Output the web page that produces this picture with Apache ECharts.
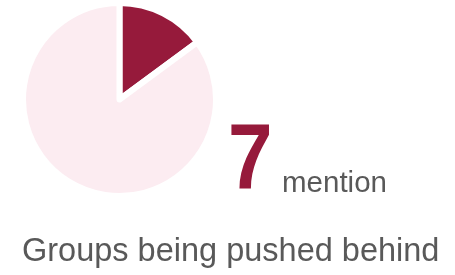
<!DOCTYPE html>
<html>
<head>
<meta charset="utf-8">
<style>html,body{margin:0;padding:0;background:#fff}#c{width:455px;height:275px}</style>
<script src="https://cdn.jsdelivr.net/npm/echarts@6/dist/echarts.min.js"></script>
</head>
<body>
<div id="c"></div>
<script>
const categories = ["Groups being pushed behind", "Other"];
const values = [7, 40];
const countLabel = "7";
const unitLabel = "mention";
const titleText = "Groups being pushed behind";

const chart = echarts.init(document.getElementById('c'), null, {renderer: 'canvas'});
chart.setOption({
  animation: false,
  backgroundColor: '#ffffff',
  series: [{
    type: 'pie',
    center: [119.5, 99.5],
    radius: [0, 96.5],
    startAngle: 90,
    clockwise: true,
    label: {show: false},
    labelLine: {show: false},
    emphasis: {disabled: true},
    itemStyle: {borderColor: '#ffffff', borderWidth: 6},
    data: categories.map((c, i) => ({
      name: c,
      value: values[i],
      itemStyle: {color: i === 0 ? '#961a3b' : '#fcecf1'}
    }))
  }],
  graphic: [
    {type: 'text', x: 228, y: 116, scaleX: 0.86, style: {text: countLabel, font: 'bold 93px "Liberation Sans", Arial, sans-serif', fill: '#961a3b'}},
    {type: 'text', left: 282, top: 169, style: {text: unitLabel, font: '29.5px "Liberation Sans", Arial, sans-serif', fill: '#595959'}},
    {type: 'text', left: 22, top: 236, style: {text: titleText, font: '32.5px "Liberation Sans", Arial, sans-serif', fill: '#595959'}}
  ]
});
</script>
</body>
</html>
